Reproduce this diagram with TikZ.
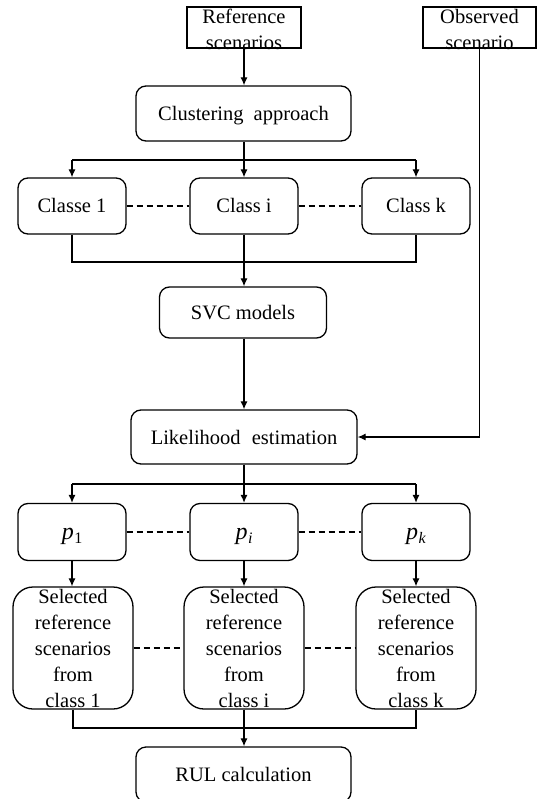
\documentclass[tikz,border=0pt]{standalone}
\usepackage{fontspec}
\setmainfont{Liberation Serif}
\usetikzlibrary{arrows.meta}
\newcommand{\pvar}[1]{{\fontsize{24}{28}\selectfont\itshape p}\kern0.5pt\raisebox{-4.5pt}{\fontsize{16}{18}\selectfont #1}}
\begin{document}
\begin{tikzpicture}[x=1pt,y=-1pt,
  every node/.style={font=\fontsize{20.5}{26}\selectfont},
  base/.style={draw, line width=1.3pt, inner sep=0pt, align=center},
  sqbox/.style={base},
  rbox/.style={base, rounded corners=10pt, text height=14pt, text depth=0pt},
  smallbox/.style={rbox, minimum width=108pt, minimum height=56pt},
  selbox/.style={base, rounded corners=20pt, minimum width=120pt, minimum height=122pt},
  conn/.style={line width=1.2pt},
  arr/.style={conn, -{Latex[length=8pt,width=7pt]}},
  dashlink/.style={conn, dash pattern=on 6pt off 4pt}
]
\useasboundingbox (0,0) rectangle (542,799);
\clip (0,0) rectangle (542,799);

% top input boxes
\node[sqbox, minimum width=114pt, minimum height=41pt,
      label={[align=center, yshift=-2pt]center:Reference\\scenarios}] (ref) at (244,27.5) {};
\node[sqbox, minimum width=113pt, minimum height=41pt,
      label={[align=center, yshift=-2pt]center:Observed\\scenario}] (obs) at (479.5,27.5) {};

\node[rbox, minimum width=215pt, minimum height=55pt] (clust) at (243.5,113.5) {Clustering\hspace{5pt} approach};

\node[smallbox] (c1) at (72,206) {Classe 1};
\node[smallbox] (ci) at (244,206) {Class i};
\node[smallbox] (ck) at (416,206) {Class k};

\node[rbox, minimum width=167pt, minimum height=51pt] (svc) at (243,312.5) {SVC models};

\node[rbox, minimum width=226pt, minimum height=54pt] (lik) at (244,437) {Likelihood\hspace{6pt} estimation};

\node[smallbox, minimum height=57pt] (p1) at (72,532) {\pvar{1}};
\node[smallbox, minimum height=57pt] (pi) at (244,532) {\pvar{\itshape i}};
\node[smallbox, minimum height=57pt] (pk) at (416,532) {\pvar{\itshape k}};

\node[selbox, label={[align=center]center:Selected\\reference\\scenarios\\from\\class 1}] (s1) at (73,648) {};
\node[selbox, label={[align=center]center:Selected\\reference\\scenarios\\from\\class i}] (si) at (244,648) {};
\node[selbox, label={[align=center]center:Selected\\reference\\scenarios\\from\\class k}] (sk) at (416,648) {};

\node[rbox, minimum width=215pt, minimum height=55pt] (rul) at (243.5,774.5) {RUL calculation};

% connectors
\coordinate (b1) at (244,160);
\coordinate (m1) at (244,262);
\coordinate (b2) at (244,484);
\coordinate (m2) at (244,728);

\draw[arr] (ref.south) -- (ref.south |- clust.north);
\draw[arr] (clust.south -| ci.north) -- (ci.north);
\draw[conn] (c1.north |- b1) -- (ck.north |- b1);
\draw[arr] (c1.north |- b1) -- (c1.north);
\draw[arr] (ck.north |- b1) -- (ck.north);

\draw[conn] (c1.south) |- (m1) -| (ck.south);
\draw[arr] (ci.south) -- (ci.south |- svc.north);
\draw[arr] (svc.south -| lik.north) -- (lik.north);
\draw[arr] (obs.south) |- (lik.east);

\draw[arr] (lik.south) -- (pi.north);
\draw[conn] (p1.north |- b2) -- (pk.north |- b2);
\draw[arr] (p1.north |- b2) -- (p1.north);
\draw[arr] (pk.north |- b2) -- (pk.north);

\draw[arr] (p1.south) -- (p1.south |- s1.north);
\draw[arr] (pi.south) -- (si.north);
\draw[arr] (pk.south) -- (sk.north);

\draw[conn] (s1.south) |- (m2) -| (sk.south);
\draw[arr] (si.south) -- (si.south |- rul.north);

% dashed links
\draw[dashlink] (c1.east) -- (ci.west);
\draw[dashlink] (ci.east) -- (ck.west);
\draw[dashlink] (p1.east) -- (pi.west);
\draw[dashlink] (pi.east) -- (pk.west);
\draw[dashlink] (s1.east) -- (si.west);
\draw[dashlink] (si.east) -- (sk.west);
\end{tikzpicture}
\end{document}
